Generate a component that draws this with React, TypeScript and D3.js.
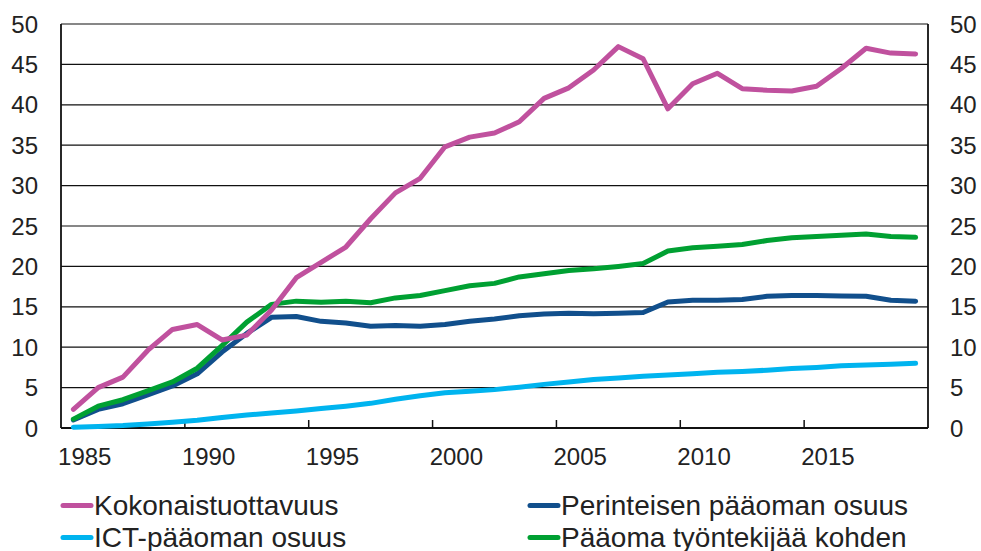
import React from "react";
import * as d3 from "d3";

const years = [
  1985, 1986, 1987, 1988, 1989, 1990, 1991, 1992, 1993, 1994,
  1995, 1996, 1997, 1998, 1999, 2000, 2001, 2002, 2003, 2004,
  2005, 2006, 2007, 2008, 2009, 2010, 2011, 2012, 2013, 2014,
  2015, 2016, 2017, 2018, 2019,
];

const kokonaistuottavuus = [
  2.3, 5.0, 6.3, 9.6, 12.2, 12.8, 10.9, 11.5, 14.6, 18.6,
  20.5, 22.4, 25.9, 29.1, 30.9, 34.8, 36.0, 36.5, 37.9, 40.8,
  42.1, 44.3, 47.2, 45.7, 39.5, 42.6, 43.9, 42.0, 41.8, 41.7,
  42.3, 44.5, 47.0, 46.4, 46.3,
];

const perinteinen = [
  1.0, 2.3, 3.0, 4.1, 5.2, 6.7, 9.4, 11.7, 13.7, 13.8,
  13.2, 13.0, 12.6, 12.7, 12.6, 12.8, 13.2, 13.5, 13.9, 14.1,
  14.2, 14.15, 14.2, 14.3, 15.6, 15.8, 15.8, 15.9, 16.3, 16.4,
  16.4, 16.35, 16.3, 15.8, 15.7,
];

const ict = [
  0.1, 0.2, 0.3, 0.5, 0.7, 0.95, 1.3, 1.6, 1.85, 2.1,
  2.4, 2.7, 3.05, 3.55, 4.0, 4.35, 4.55, 4.75, 5.05, 5.4,
  5.7, 6.0, 6.2, 6.4, 6.55, 6.7, 6.9, 7.0, 7.15, 7.35,
  7.5, 7.7, 7.8, 7.9, 8.0,
];

const paaoma = [
  1.1, 2.7, 3.5, 4.6, 5.7, 7.4, 10.2, 13.1, 15.3, 15.7,
  15.55, 15.7, 15.5, 16.1, 16.4, 17.0, 17.6, 17.9, 18.7, 19.1,
  19.5, 19.7, 20.0, 20.35, 21.9, 22.3, 22.5, 22.7, 23.2, 23.55,
  23.7, 23.85, 24.0, 23.7, 23.6,
];

const yTicks = [0, 5, 10, 15, 20, 25, 30, 35, 40, 45, 50];
const xLabelYears = [1985, 1990, 1995, 2000, 2005, 2010, 2015];

const seriesNames = [
  "Kokonaistuottavuus",
  "Perinteisen pääoman osuus",
  "ICT-pääoman osuus",
  "Pääoma työntekijää kohden",
];
const seriesColors = ["#c0519e", "#114f8c", "#00b4ef", "#00a032"];
const seriesValues = [kokonaistuottavuus, perinteinen, ict, paaoma];
// drawing order: cyan, blue, green, magenta on top
const drawOrder = [2, 1, 3, 0];

const W = 981;
const H = 551;
const left = 61;
const right = 928;
const top = 24;
const bottom = 428;
const FONT = "'Liberation Sans', Arial, Helvetica, sans-serif";
const TEXT = "#222";

export default function App() {
  const x = d3.scaleBand<number>().domain(years).range([left, right]).padding(0);
  const bw = x.bandwidth();
  const y = d3.scaleLinear().domain([0, 50]).range([bottom, top]);

  const line = (vals: number[]) =>
    d3
      .line<number>()
      .x((_, i) => (x(years[i]) as number) + bw / 2)
      .y((v) => y(v))(vals) as string;

  const legendItems = [
    { idx: 0, sx: 61, row: 0 },
    { idx: 1, sx: 528, row: 0 },
    { idx: 2, sx: 61, row: 1 },
    { idx: 3, sx: 528, row: 1 },
  ];
  const rowY = [505.5, 537.5];

  return (
    <svg
      width={W}
      height={H}
      style={{ position: "absolute", left: 0, top: 0, background: "#fff" }}
      fontFamily={FONT}
    >
      {/* gridlines */}
      {yTicks.map((t) => (
        <line
          key={"g" + t}
          x1={left}
          x2={right}
          y1={y(t)}
          y2={y(t)}
          stroke="#111"
          strokeWidth={1.2}
        />
      ))}
      {/* axes frame */}
      <line x1={left} x2={left} y1={top} y2={bottom} stroke="#111" strokeWidth={1.8} />
      <line x1={right} x2={right} y1={top} y2={bottom} stroke="#111" strokeWidth={1.8} />
      <line x1={left} x2={right} y1={bottom} y2={bottom} stroke="#111" strokeWidth={1.8} />
      {/* x ticks */}
      {xLabelYears.slice(1).map((yr) => (
        <line
          key={"t" + yr}
          x1={x(yr) as number}
          x2={x(yr) as number}
          y1={bottom}
          y2={bottom - 8}
          stroke="#111"
          strokeWidth={1.5}
        />
      ))}
      {/* x labels */}
      {xLabelYears.map((yr) => (
        <text
          key={"xl" + yr}
          x={(x(yr) as number) + bw - 1}
          y={465}
          textAnchor="middle"
          fontSize={24}
          fill={TEXT}
        >
          {yr}
        </text>
      ))}
      {/* y labels left and right */}
      {yTicks.map((t) => (
        <text key={"yl" + t} x={38} y={y(t) + 8.5} textAnchor="end" fontSize={24} fill={TEXT}>
          {t}
        </text>
      ))}
      {yTicks.map((t) => (
        <text key={"yr" + t} x={950} y={y(t) + 8.5} textAnchor="start" fontSize={24} fill={TEXT}>
          {t}
        </text>
      ))}
      {/* series */}
      {drawOrder.map((i) => (
        <path
          key={"s" + i}
          d={line(seriesValues[i])}
          fill="none"
          stroke={seriesColors[i]}
          strokeWidth={5}
          strokeLinejoin="round"
          strokeLinecap="round"
        />
      ))}
      {/* legend */}
      {legendItems.map((it) => (
        <g key={"lg" + it.idx}>
          <line
            x1={it.sx + 2}
            x2={it.sx + 30}
            y1={rowY[it.row]}
            y2={rowY[it.row]}
            stroke={seriesColors[it.idx]}
            strokeWidth={5}
            strokeLinecap="round"
          />
          <text x={it.sx + 33} y={rowY[it.row] + 9} fontSize={28} fill={TEXT}>
            {seriesNames[it.idx]}
          </text>
        </g>
      ))}
    </svg>
  );
}
